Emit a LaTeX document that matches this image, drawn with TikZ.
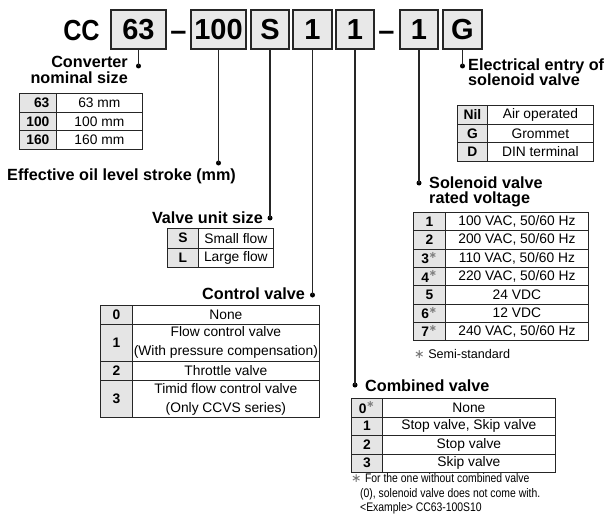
\documentclass[tikz,border=0pt]{standalone}
\usepackage{fontspec}
\usepackage{graphicx}
\setmainfont{Liberation Sans}
\newfontfamily\dejavu{DejaVu Sans}
\newcommand{\mycell}[7]{\node[#6, anchor=north west, minimum width={(#4-#2)*1pt}, minimum height={(#5-#3)*1pt}] (#1) at (#2,#3) {#7};}
\newcommand{\sst}{\textsuperscript{\textcolor{black!50}{\dejavu ∗}}}
\newcommand{\nst}{\textcolor{black!55}{\dejavu ∗}}
\newcommand{\cond}[1]{\scalebox{0.84}[1]{#1}}
\tikzset{
 hbox/.style={draw=black!85, line width=1.3pt, fill=black!9, font=\fontsize{29}{29}\selectfont\bfseries, inner sep=0pt},
 htext/.style={font=\fontsize{29}{29}\selectfont\bfseries, inner sep=0pt, anchor=base},
 conn/.style={line width=1.1pt, black!85},
 dot/.style={circle, fill=black, inner sep=0pt, minimum size=5pt},
 head/.style={font=\fontsize{16.2}{17}\selectfont\bfseries, inner sep=0pt},
 codec/.style={draw=black!85, line width=0.8pt, fill=black!10, font=\fontsize{13.8}{19}\selectfont\bfseries, inner sep=0.5pt},
 valc/.style={draw=black!85, line width=0.8pt, font=\fontsize{13.8}{19}\selectfont, inner sep=0.5pt, align=center},
 note/.style={font=\fontsize{12.4}{14}\selectfont, inner sep=0pt, anchor=base west},
 semi/.style={font=\fontsize{12.6}{14}\selectfont, inner sep=0pt, anchor=base west},
}
\begin{document}
\begin{tikzpicture}[x=1pt, y=-1pt]
\useasboundingbox (0,0) rectangle (606,519);
% header
\node[htext] (cc) at (81.5,40.5) {\scalebox{0.87}[1]{CC}};
\node[hbox, minimum width=55pt, minimum height=39pt] (b63) at (138.5,29.5) {63};
\node[htext] (dash1) at (178.5,40.5) {–};
\node[hbox, minimum width=55pt, minimum height=39pt] (b100) at (218.5,29.5) {100};
\node[hbox, minimum width=38pt, minimum height=39pt] (bS) at (270,29.5) {S};
\node[hbox, minimum width=39pt, minimum height=39pt] (b1a) at (312.5,29.5) {1};
\node[hbox, minimum width=38pt, minimum height=39pt] (b1b) at (355,29.5) {1};
\node[htext] (dash2) at (386.5,40.5) {–};
\node[hbox, minimum width=38pt, minimum height=39pt] (b1c) at (419,29.5) {1};
\node[hbox, minimum width=39pt, minimum height=39pt] (bG) at (462.5,29.5) {G};
% dots
\node[dot] (d63) at (138.5,66) {};
\node[dot] (d100) at (218.5,163) {};
\node[dot] (dS) at (270,218) {};
\node[dot] (d1a) at (312.5,295) {};
\node[dot] (d1b) at (355,385) {};
\node[dot] (d1c) at (419,183) {};
\node[dot] (dG) at (462.5,66) {};
\draw[conn] (b63.south) -- (d63.center);
\draw[conn] (b100.south) -- (d100.center);
\draw[conn] (bS.south) -- (dS.center);
\draw[conn] (b1a.south) -- (d1a.center);
\draw[conn] (b1b.south) -- (d1b.center);
\draw[conn] (b1c.south) -- (d1c.center);
\draw[conn] (bG.south) -- (dG.center);
% labels
\node[head, anchor=base east] (lconv1) at (128,68) {Converter};
\node[head, anchor=base east] (lconv2) at (128,84) {nominal size};
\node[head, anchor=base west] (lstroke) at (7,180) {Effective oil level stroke (mm)};
\node[head, anchor=base east] (lunit) at (263,223) {Valve unit size};
\node[head, anchor=base east] (lctrl) at (305,299) {Control valve};
\node[head, anchor=base west] (lcomb) at (365,391) {Combined valve};
\node[head, anchor=base west] (lsol1) at (429,188) {Solenoid valve};
\node[head, anchor=base west] (lsol2) at (429,203) {rated voltage};
\node[head, anchor=base west] (lel1) at (468,71) {Electrical entry of};
\node[head, anchor=base west] (lel2) at (468,86) {solenoid valve};
% converter table
\mycell{cv1}{19}{93}{56}{111.7}{codec, text width=23pt, align=right}{63}
\mycell{cv1v}{56}{93}{142}{111.7}{valc}{63 mm}
\mycell{cv2}{19}{111.7}{56}{130.3}{codec, text width=23pt, align=right}{100}
\mycell{cv2v}{56}{111.7}{142}{130.3}{valc}{100 mm}
\mycell{cv3}{19}{130.3}{56}{149}{codec, text width=23pt, align=right}{160}
\mycell{cv3v}{56}{130.3}{142}{149}{valc}{160 mm}
% valve unit table
\mycell{vu1}{167}{228}{198}{247.5}{codec}{S}
\mycell{vu1v}{198}{228}{273}{247.5}{valc}{Small flow}
\mycell{vu2}{167}{247.5}{198}{267}{codec}{L}
\mycell{vu2v}{198}{247.5}{273}{267}{valc}{Large flow}
% control valve table
\mycell{ct0}{100}{305}{132}{323.7}{codec}{0}
\mycell{ct0v}{132}{305}{319}{323.7}{valc}{None}
\mycell{ct1}{100}{323.7}{132}{361.2}{codec}{1}
\mycell{ct1v}{132}{323.7}{319}{361.2}{valc}{Flow control valve\\(With pressure compensation)}
\mycell{ct2}{100}{361.2}{132}{379.9}{codec}{2}
\mycell{ct2v}{132}{361.2}{319}{379.9}{valc}{Throttle valve}
\mycell{ct3}{100}{379.9}{132}{417.4}{codec}{3}
\mycell{ct3v}{132}{379.9}{319}{417.4}{valc}{Timid flow control valve\\(Only CCVS series)}
% combined valve table
\mycell{cb0}{351}{398}{382}{416.5}{codec}{0\sst}
\mycell{cb0v}{382}{398}{555}{416.5}{valc}{None}
\mycell{cb1}{351}{416.5}{382}{435}{codec}{1}
\mycell{cb1v}{382}{416.5}{555}{435}{valc}{Stop valve, Skip valve}
\mycell{cb2}{351}{435}{382}{453.5}{codec}{2}
\mycell{cb2v}{382}{435}{555}{453.5}{valc}{Stop valve}
\mycell{cb3}{351}{453.5}{382}{472}{codec}{3}
\mycell{cb3v}{382}{453.5}{555}{472}{valc}{Skip valve}
\node[note] (fn1) at (351,482) {\nst\ \cond{For the one without combined valve}};
\node[note] (fn2) at (360,497) {\cond{(0), solenoid valve does not come with.}};
\node[note] (fn3) at (360,511.5) {\cond{<Example> CC63-100S10}};
% solenoid voltage table
\mycell{sv1}{413}{212}{445}{230.3}{codec}{1}
\mycell{sv1v}{445}{212}{588}{230.3}{valc}{100 VAC, 50/60 Hz}
\mycell{sv2}{413}{230.3}{445}{248.6}{codec}{2}
\mycell{sv2v}{445}{230.3}{588}{248.6}{valc}{200 VAC, 50/60 Hz}
\mycell{sv3}{413}{248.6}{445}{266.9}{codec}{3\sst}
\mycell{sv3v}{445}{248.6}{588}{266.9}{valc}{110 VAC, 50/60 Hz}
\mycell{sv4}{413}{266.9}{445}{285.2}{codec}{4\sst}
\mycell{sv4v}{445}{266.9}{588}{285.2}{valc}{220 VAC, 50/60 Hz}
\mycell{sv5}{413}{285.2}{445}{303.5}{codec}{5}
\mycell{sv5v}{445}{285.2}{588}{303.5}{valc}{24 VDC}
\mycell{sv6}{413}{303.5}{445}{321.8}{codec}{6\sst}
\mycell{sv6v}{445}{303.5}{588}{321.8}{valc}{12 VDC}
\mycell{sv7}{413}{321.8}{445}{340.1}{codec}{7\sst}
\mycell{sv7v}{445}{321.8}{588}{340.1}{valc}{240 VAC, 50/60 Hz}
\node[semi] (fnsemi) at (414,358) {\nst\ Semi-standard};
% electrical entry table
\mycell{ee1}{457}{105}{487}{123.7}{codec}{Nil}
\mycell{ee1v}{487}{105}{593}{123.7}{valc}{Air operated}
\mycell{ee2}{457}{123.7}{487}{142.3}{codec}{G}
\mycell{ee2v}{487}{123.7}{593}{142.3}{valc}{Grommet}
\mycell{ee3}{457}{142.3}{487}{161}{codec}{D}
\mycell{ee3v}{487}{142.3}{593}{161}{valc}{DIN terminal}
\end{tikzpicture}
\end{document}
